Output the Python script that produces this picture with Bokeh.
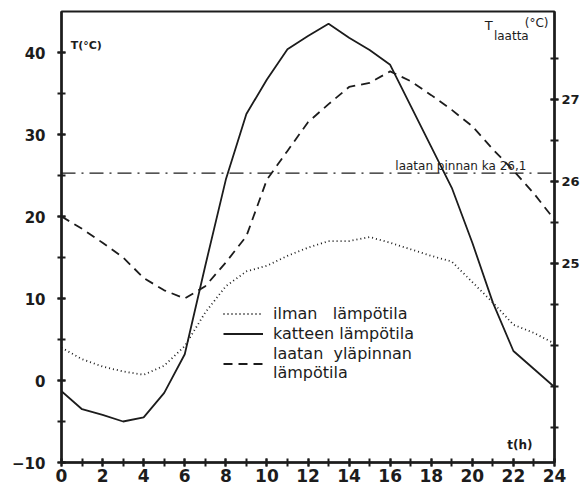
from bokeh.plotting import figure
from bokeh.models import (Range1d, LinearAxis, FixedTicker, Legend, LegendItem,
                          Span, Label)
from bokeh.embed import file_html
from bokeh.resources import INLINE

# ---- data ----
hours = list(range(25))
# ilman lämpötila (air temperature), °C, left axis
air = [4.0, 2.6, 1.7, 1.1, 0.7, 1.8, 4.2, 8.3, 11.5, 13.3, 14.0, 15.2, 16.2,
       17.0, 17.0, 17.5, 16.8, 16.0, 15.2, 14.5, 12.0, 9.5, 6.8, 5.8, 4.5]
# katteen lämpötila (roof temperature), °C, left axis
roof = [-1.3, -3.5, -4.2, -5.0, -4.5, -1.5, 3.2, 14.0, 24.5, 32.5, 36.7, 40.4,
        42.0, 43.5, 41.8, 40.3, 38.5, 33.5, 28.5, 23.5, 16.8, 9.5, 3.6, 1.4, -0.8]
# laatan yläpinnan lämpötila (slab top surface), °C, right axis
slab = [25.57, 25.42, 25.25, 25.07, 24.82, 24.67, 24.57, 24.72, 25.01, 25.33,
        26.02, 26.37, 26.72, 26.94, 27.15, 27.20, 27.34, 27.22, 27.05, 26.87,
        26.67, 26.39, 26.13, 25.85, 25.53]
slab_mean = 26.1

x_ticks = [0, 2, 4, 6, 8, 10, 12, 14, 16, 18, 20, 22, 24]
x_minor = list(range(25))
left_ticks = [-10, 0, 10, 20, 30, 40]
left_minor = [-10, -5, 0, 5, 10, 15, 20, 25, 30, 35, 40]
right_ticks = [25, 26, 27]
right_minor = [23.0, 23.5, 24.0, 24.5, 25.0, 25.5, 26.0, 26.5, 27.0, 27.5]

INK = "#1c1c1c"
FONT = "DejaVu Sans"

p = figure(frame_width=493, frame_height=451,
           x_range=Range1d(0, 24), y_range=Range1d(-10, 45),
           output_backend="svg", toolbar_location=None,
           min_border_left=61, min_border_right=26,
           min_border_top=11, min_border_bottom=0,
           background_fill_color="white", border_fill_color="white")
p.extra_y_ranges = {"right": Range1d(22.57, 28.07)}
p.xgrid.visible = False
p.ygrid.visible = False
p.outline_line_color = INK
p.outline_line_width = 2
p.outline_line_alpha = 1

def style_axis(ax, font_size, style="bold"):
    ax.axis_line_color = INK
    ax.axis_line_width = 2.5
    ax.major_tick_line_color = INK
    ax.minor_tick_line_color = INK
    ax.major_tick_line_width = 2
    ax.minor_tick_line_width = 2
    ax.major_tick_in = 4
    ax.major_tick_out = 4
    ax.minor_tick_in = 4
    ax.minor_tick_out = 4
    ax.major_label_text_font = FONT
    ax.major_label_text_font_style = style
    ax.major_label_text_font_size = font_size
    ax.major_label_text_color = INK

# x axis
p.xaxis.ticker = FixedTicker(ticks=x_ticks, minor_ticks=x_minor)
style_axis(p.xaxis[0], "17px")
p.xaxis.major_label_standoff = 2

# left axis
p.yaxis.ticker = FixedTicker(ticks=left_ticks, minor_ticks=left_minor)
style_axis(p.yaxis[0], "15px")
p.yaxis.major_label_standoff = 12

# right axis
rax = LinearAxis(y_range_name="right",
                 ticker=FixedTicker(ticks=right_ticks, minor_ticks=right_minor))
style_axis(rax, "13px")
rax.major_label_standoff = 3
p.add_layout(rax, "right")

# mean line of slab surface
p.add_layout(Span(location=slab_mean, dimension="width", y_range_name="right",
                  line_color=INK, line_width=1.2, line_dash="14 6 2 6"))

r_air = p.line(hours, air, line_color=INK, line_width=1.8, line_dash="1 3")
r_roof = p.line(hours, roof, line_color=INK, line_width=1.8)
r_slab = p.line(hours, slab, y_range_name="right", line_color=INK,
                line_width=1.8, line_dash="9 6")

legend = Legend(items=[
    LegendItem(label="ilman   lämpötila", renderers=[r_air]),
    LegendItem(label="katteen lämpötila", renderers=[r_roof]),
    LegendItem(label="laatan  yläpinnan\nlämpötila", renderers=[r_slab]),
], location=(162, 80), background_fill_alpha=0, border_line_alpha=0,
    label_text_font=FONT, label_text_font_size="16px", label_text_color=INK,
    label_text_line_height=1.1,
    glyph_width=40, glyph_height=17, label_standoff=10, spacing=1,
    padding=0, margin=0, label_height=17)
p.add_layout(legend)

def lab(x, y, text, size, style="normal", yr="default", align="left"):
    p.add_layout(Label(x=x, y=y, text=text, y_range_name=yr,
                       text_font=FONT, text_font_size=size,
                       text_font_style=style, text_color=INK,
                       text_align=align, text_baseline="middle"))

lab(0.45, 40.8, "T(°C)", "11px", "bold")
lab(21.7, -7.9, "t(h)", "12px", "bold")
lab(20.6, 43.3, "T", "13px")
lab(21.05, 42.0, "laatta", "12px")
lab(22.55, 43.6, "(°C)", "12px")
lab(16.25, slab_mean + 0.09, "laatan pinnan ka 26,1", "12px", yr="right")

open("out.html", "w").write(file_html(p, INLINE))
